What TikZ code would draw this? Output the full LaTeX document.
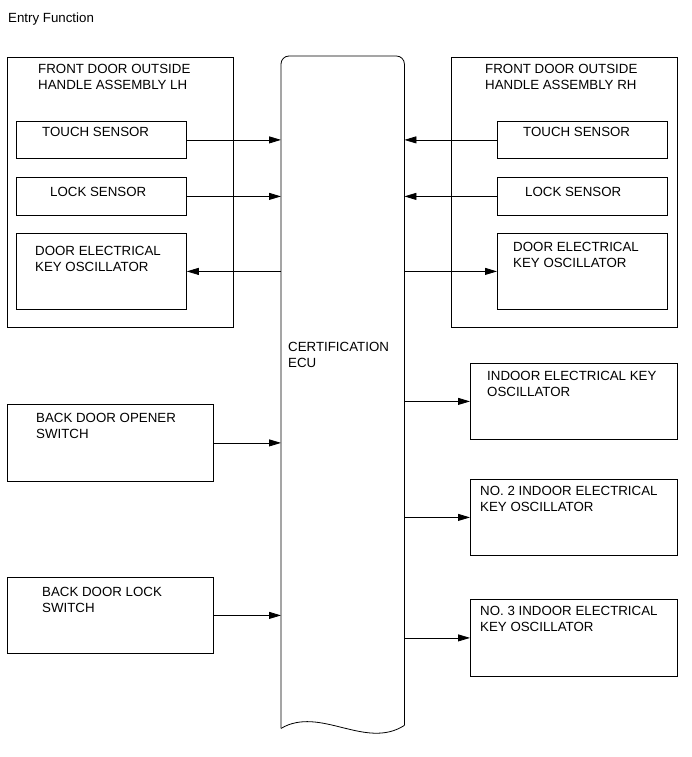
\documentclass[tikz,border=0pt]{standalone}
\usepackage{fontspec}
\setmainfont{Liberation Sans}
\usetikzlibrary{positioning,arrows.meta,calc}

\begin{document}
\begin{tikzpicture}[
  x=1pt,y=-1pt,
  unit/.style={draw=black,line width=0.8pt,anchor=north west,inner sep=0pt},
  txt/.style={anchor=north west,inner sep=0pt,align=left,
              font=\fontsize{13.3}{16}\selectfont},
  flow/.style={-{Triangle[length=12pt,width=7pt]},line width=0.8pt}
]
\useasboundingbox (0,0) rectangle (691,757);

\node[txt] (title) at (8,12.5) {Entry Function};

% Certification ECU (open bottom, wavy edge)
\node[anchor=north west,inner sep=0pt,minimum width=123pt,minimum height=669pt] (ecu) at (281,56) {};
\draw[line width=0.8pt,rounded corners=8pt]
  ($(ecu.south west)+(0,3)$) -- (ecu.north west) -- (ecu.north east) -- (ecu.south east);
\draw[line width=0.8pt] (ecu.south east)
  .. controls ($(ecu.south east)+(-39,25)$) and ($(ecu.south west)+(39,-20)$)
  .. ($(ecu.south west)+(0,3)$);
\node[txt] (ecutext) at (288,342) {CERTIFICATION\\ECU};

% Front door outside handle LH
\node[unit,minimum width=226pt,minimum height=270pt] (lhframe) at (7,57) {};
\node[txt] (lhname) at (38,64.5) {FRONT DOOR OUTSIDE\\HANDLE ASSEMBLY LH};
\node[unit,minimum width=170pt,minimum height=37pt] (lhtouch) at (16,121) {};
\node[txt] at (42,127) {TOUCH SENSOR};
\node[unit,minimum width=170pt,minimum height=38pt] (lhlock) at (16,177) {};
\node[txt] at (50,187) {LOCK SENSOR};
\node[unit,minimum width=170pt,minimum height=76pt] (lhosc) at (16,233) {};
\node[txt] at (35,246.5) {DOOR ELECTRICAL\\KEY OSCILLATOR};

% Front door outside handle RH
\node[unit,minimum width=226pt,minimum height=270pt] (rhframe) at (451,57) {};
\node[txt] (rhname) at (485,64.5) {FRONT DOOR OUTSIDE\\HANDLE ASSEMBLY RH};
\node[unit,minimum width=170pt,minimum height=37pt] (rhtouch) at (497,121) {};
\node[txt] at (523,127) {TOUCH SENSOR};
\node[unit,minimum width=170pt,minimum height=38pt] (rhlock) at (497,177) {};
\node[txt] at (525,187) {LOCK SENSOR};
\node[unit,minimum width=170pt,minimum height=76pt] (rhosc) at (497,233) {};
\node[txt] at (513,242.5) {DOOR ELECTRICAL\\KEY OSCILLATOR};

% Back door switches
\node[unit,minimum width=206pt,minimum height=77pt] (opener) at (7,404) {};
\node[txt] at (36,413) {BACK DOOR OPENER\\SWITCH};
\node[unit,minimum width=206pt,minimum height=76pt] (lockswitch) at (7,577) {};
\node[txt] at (42,587) {BACK DOOR LOCK\\SWITCH};

% Indoor oscillators
\node[unit,minimum width=207pt,minimum height=76pt] (indoor) at (470,363) {};
\node[txt] at (487,371) {INDOOR ELECTRICAL KEY\\OSCILLATOR};
\node[unit,minimum width=207pt,minimum height=76pt] (indoortwo) at (470,479) {};
\node[txt] at (480,486) {NO. 2 INDOOR ELECTRICAL\\KEY OSCILLATOR};
\node[unit,minimum width=207pt,minimum height=77pt] (indoorthree) at (470,599) {};
\node[txt] at (480,606) {NO. 3 INDOOR ELECTRICAL\\KEY OSCILLATOR};

% Signals
\draw[flow] (lhtouch.east) -- (lhtouch.east -| ecu.west);
\draw[flow] (lhlock.east) -- (lhlock.east -| ecu.west);
\draw[flow] (lhosc.east -| ecu.west) -- (lhosc.east);
\draw[flow] (rhtouch.west) -- (rhtouch.west -| ecu.east);
\draw[flow] (rhlock.west) -- (rhlock.west -| ecu.east);
\draw[flow] (rhosc.west -| ecu.east) -- (rhosc.west);
\draw[flow] (opener.east) -- (opener.east -| ecu.west);
\draw[flow] (lockswitch.east) -- (lockswitch.east -| ecu.west);
\draw[flow] (indoor.west -| ecu.east) -- (indoor.west);
\draw[flow] (indoortwo.west -| ecu.east) -- (indoortwo.west);
\draw[flow] (indoorthree.west -| ecu.east) -- (indoorthree.west);
\end{tikzpicture}
\end{document}
